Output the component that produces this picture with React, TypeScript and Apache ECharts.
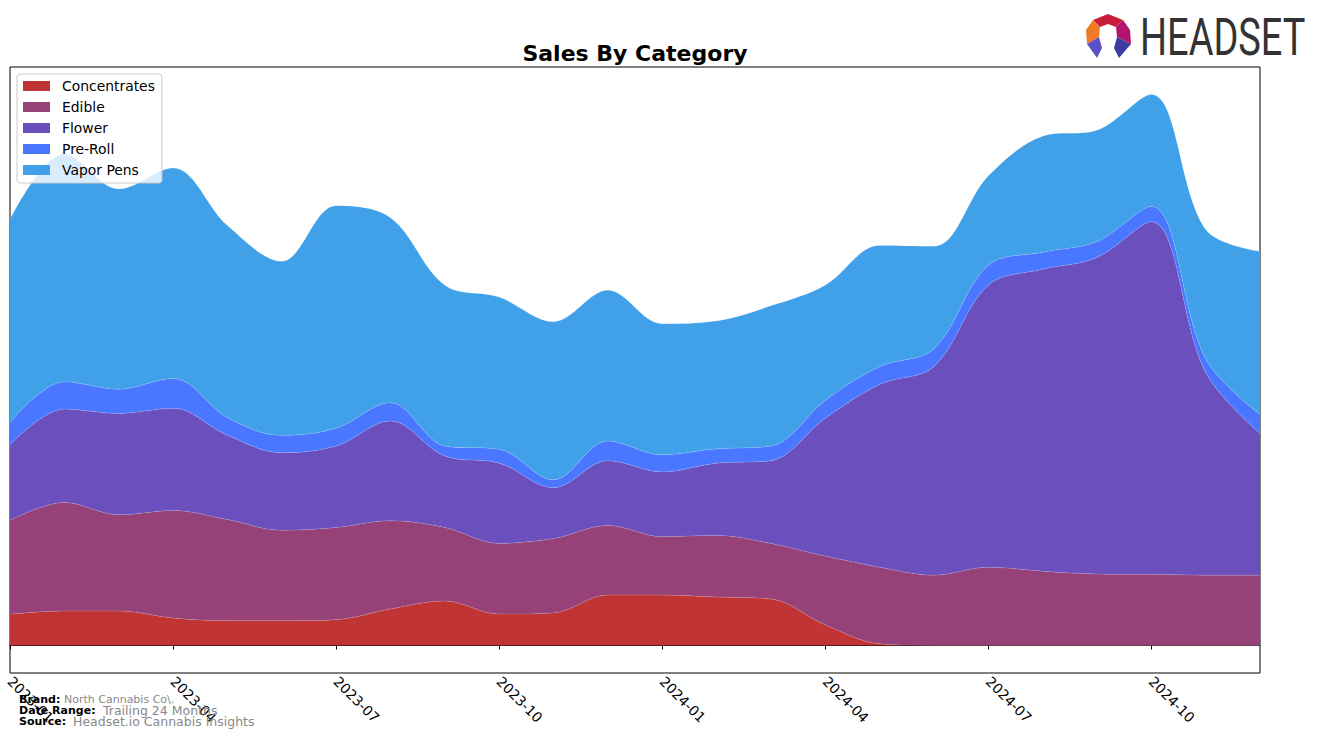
import React, { useEffect, useRef } from "react";
import * as echarts from "echarts";

const months = [
  "2023-01", "2023-02", "2023-03", "2023-04", "2023-05", "2023-06",
  "2023-07", "2023-08", "2023-09", "2023-10", "2023-11", "2023-12",
  "2024-01", "2024-02", "2024-03", "2024-04", "2024-05", "2024-06",
  "2024-07", "2024-08", "2024-09", "2024-10", "2024-11", "2024-12",
];

const concentrates = [79, 87, 87, 69, 62, 62, 65, 92, 112, 79, 82, 127, 127, 122, 117, 52, 4, 0, 0, 0, 0, 0, 0, 0];
const edible = [236, 273, 242, 271, 255, 228, 232, 222, 185, 178, 187, 175, 147, 155, 140, 173, 193, 177, 197, 187, 180, 179, 177, 177];
const flower = [190, 235, 255, 257, 212, 195, 205, 251, 180, 202, 128, 163, 163, 182, 208, 347, 460, 525, 710, 760, 797, 888, 510, 357];
const preRoll = [57, 69, 61, 75, 45, 44, 45, 46, 25, 35, 20, 50, 43, 36, 37, 45, 45, 45, 50, 43, 40, 38, 35, 48];
const vaporPens = [510, 573, 504, 530, 483, 438, 560, 466, 405, 383, 398, 379, 330, 322, 353, 290, 305, 258, 225, 292, 280, 282, 325, 410];

const seriesNames = ["Concentrates", "Edible", "Flower", "Pre-Roll", "Vapor Pens"];
const seriesColors = ["#C13434", "#964279", "#6A4FBD", "#4A77FF", "#40A0E8"];
const seriesData = [concentrates, edible, flower, preRoll, vaporPens];

const footer = [
  { label: "Brand:", value: "North Cannabis Co\\.", valueSize: 11 },
  { label: "Date Range:", value: "Trailing 24 Months", valueSize: 12.5 },
  { label: "Source:", value: "Headset.io Cannabis Insights", valueSize: 12.5 },
];

const FONT = '"DejaVu Sans", sans-serif';

export default function App() {
  const ref = useRef<HTMLDivElement>(null);

  useEffect(() => {
    if (!ref.current) return;
    const chart = echarts.init(ref.current, undefined, { renderer: "svg" });

    const totals = months.map((_, i) => seriesData.reduce((s, d) => s + d[i], 0));
    const maxTotal = Math.max(...totals);

    const footerGraphics: any[] = [];
    const footerY = [699, 710, 721];
    const valueX = [64, 103, 73];
    footer.forEach((f, i) => {
      footerGraphics.push({
        type: "text",
        x: 19,
        y: footerY[i],
        style: { text: f.label, font: `bold 11px ${FONT}`, fill: "#000", textVerticalAlign: "middle" },
        z: 10,
      });
      footerGraphics.push({
        type: "text",
        x: valueX[i],
        y: footerY[i],
        style: { text: f.value, font: `${f.valueSize}px ${FONT}`, fill: "#888", textVerticalAlign: "middle" },
        z: 10,
      });
    });

    const logo: any[] = [
      { type: "polygon", shape: { points: [[1093, 20], [1108, 14], [1123, 20], [1116, 27], [1108, 24], [1100, 27]] }, style: { fill: "#C81E3C" } },
      { type: "polygon", shape: { points: [[1093, 20], [1100, 27], [1099, 37], [1087, 44], [1086, 30]] }, style: { fill: "#F07A28" } },
      { type: "polygon", shape: { points: [[1123, 20], [1130, 30], [1131, 44], [1117, 37], [1116, 27]] }, style: { fill: "#B4146E" } },
      { type: "polygon", shape: { points: [[1087, 44], [1099, 37], [1102, 48], [1097, 58]] }, style: { fill: "#5A50C8" } },
      { type: "polygon", shape: { points: [[1131, 44], [1117, 37], [1114, 48], [1119, 58]] }, style: { fill: "#3C3CA0" } },
      {
        type: "text",
        x: 1140,
        y: 37,
        scaleX: 0.73,
        style: { text: "HEADSET", font: '52px Roboto, sans-serif', fill: "#333", textVerticalAlign: "middle" },
      },
    ];

    const option: any = {
      animation: false,
      title: {
        text: "Sales By Category",
        left: 630,
        top: 37,
        textAlign: "center",
        textStyle: { fontFamily: FONT, fontWeight: "bold", fontSize: 22, color: "#000" },
      },
      legend: {
        orient: "vertical",
        left: 17,
        top: 74,
        padding: [5, 7, 6, 6],
        itemGap: 7,
        itemWidth: 27,
        itemHeight: 10,
        icon: "rect",
        backgroundColor: "rgba(255,255,255,0.8)",
        borderColor: "#ccc",
        borderWidth: 1,
        borderRadius: 3,
        data: seriesNames,
        textStyle: { fontFamily: FONT, fontSize: 13.9, color: "#000", padding: [0, 0, 0, 7] },
      },
      grid: {
        left: 10,
        right: 64,
        top: 67,
        bottom: 70,
        show: true,
        borderColor: "#000",
        borderWidth: 1,
        backgroundColor: "transparent",
      },
      xAxis: {
        type: "category",
        data: months,
        boundaryGap: false,
        axisLine: { show: true, lineStyle: { color: "#000", width: 1 } },
        axisTick: {
          show: true,
          length: 4,
          interval: (idx: number) => idx % 3 === 0,
          lineStyle: { color: "#000" },
        },
        axisLabel: {
          interval: (idx: number) => idx % 3 === 0,
          rotate: -45,
          margin: 6,
          fontFamily: FONT,
          fontSize: 13.9,
          color: "#000",
        },
        splitLine: { show: false },
      },
      yAxis: {
        type: "value",
        min: -0.05 * maxTotal,
        max: 1.05 * maxTotal,
        axisLine: { show: false },
        axisTick: { show: false },
        axisLabel: { show: false },
        splitLine: { show: false },
      },
      series: seriesNames.map((name, i) => ({
        name,
        type: "line",
        stack: "total",
        smooth: 0.35,
        symbol: "none",
        color: seriesColors[i],
        lineStyle: { width: 0.6, color: "rgba(255,255,255,0.25)" },
        areaStyle: { color: seriesColors[i], opacity: 1 },
        data: seriesData[i],
      })),
      graphic: [...footerGraphics, ...logo],
    };

    chart.setOption(option);
    return () => chart.dispose();
  }, []);

  return (
    <div
      ref={ref}
      style={{ position: "fixed", left: 0, top: 0, width: 1324, height: 743, background: "#fff" }}
    />
  );
}
